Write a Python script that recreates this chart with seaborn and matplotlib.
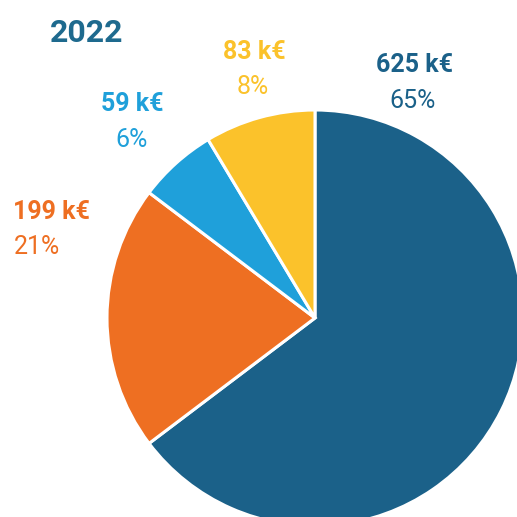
import matplotlib
matplotlib.use("Agg")
import matplotlib.pyplot as plt
import seaborn as sns

sns.set_theme(style="white")
plt.rcParams['font.family'] = ['Roboto', 'DejaVu Sans']

title = "2022"
categories = ["A", "B", "C", "D"]
values = [625, 199, 59, 83]
value_labels = ["625 k€", "199 k€", "59 k€", "83 k€"]
pct_labels = ["65%", "21%", "6%", "8%"]
colors = ["#1B6189", "#EE6F22", "#1FA0DA", "#FBC22B"]

W = H = 517
fig = plt.figure(figsize=(W / 100, H / 100), dpi=100)
fig.patch.set_facecolor("white")

cx, cy, r = 315, 318, 208
ax = fig.add_axes([(cx - r) / W, (H - cy - r) / H, 2 * r / W, 2 * r / H])
ax.pie(values, colors=colors, startangle=90, counterclock=False,
       wedgeprops=dict(edgecolor="white", linewidth=2.2), radius=1.0)
ax.set_xlim(-1, 1)
ax.set_ylim(-1, 1)
ax.set_aspect("equal")
ax.axis("off")

def ftxt(x, y, s, ha="center", **kw):
    fig.text(x / W, 1 - y / H, s, ha=ha, va="center", **kw)

ftxt(87, 33, title, color="#1E6A8E", fontsize=23, fontweight="bold")

label_pos = [(414, 65, 413, 101, "center"), (13, 212, 14, 247, "left"),
             (132, 104, 132, 140, "center"), (254, 52, 253, 87, "center")]
for (vx, vy, px, py, ha), vl, pl, c in zip(label_pos, value_labels, pct_labels, colors):
    ftxt(vx, vy, vl, ha=ha, color=c, fontsize=18, fontweight="bold")
    ftxt(px, py, pl, ha=ha, color=c, fontsize=18, fontweight="normal")

fig.savefig("out.png", dpi=100, facecolor="white")
